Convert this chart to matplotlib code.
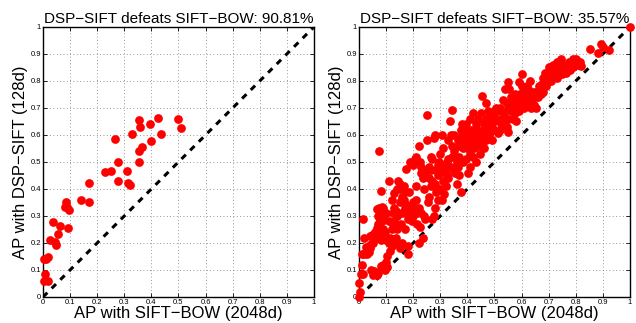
import matplotlib
matplotlib.use("Agg")
import matplotlib.pyplot as plt
import numpy as np

plt.rcParams['font.family'] = ['Liberation Sans', 'DejaVu Sans']

# left panel: SIFT-BOW AP vs DSP-SIFT AP
left_x = [0.354, 0.359, 0.423, 0.396, 0.497, 0.509, 0.434, 0.400, 0.367, 0.354,
          0.354, 0.330, 0.267, 0.277, 0.277, 0.229, 0.250, 0.309, 0.315, 0.322,
          0.171, 0.141, 0.171, 0.085, 0.082, 0.096, 0.090, 0.036, 0.063, 0.093,
          0.057, 0.027, 0.044, 0.049, 0.020, 0.012, 0.004, 0.007, 0.004, 0.020]
left_y = [0.656, 0.631, 0.662, 0.640, 0.658, 0.626, 0.605, 0.577, 0.557, 0.539,
          0.499, 0.603, 0.585, 0.499, 0.429, 0.463, 0.466, 0.466, 0.423, 0.415,
          0.423, 0.360, 0.351, 0.350, 0.334, 0.322, 0.333, 0.278, 0.262, 0.257,
          0.233, 0.210, 0.203, 0.194, 0.148, 0.139, 0.142, 0.087, 0.058, 0.058]

# right panel
right_pts = [
    (1.0, 1.0), (0.853, 0.92), (0.893, 0.937), (0.90, 0.925), (0.883, 0.903), (0.923, 0.915),
    (0.0, 0.0), (0.002, 0.02), (0.0, 0.05), (0.008, 0.085), (0.012, 0.12), (0.015, 0.085),
    (0.016, 0.29), (0.012, 0.16), (0.02, 0.16),
    (0.02, 0.22), (0.025, 0.185), (0.03, 0.17), (0.035, 0.19), (0.04, 0.18), (0.045, 0.195),
    (0.03, 0.16), (0.04, 0.225), (0.05, 0.20), (0.048, 0.23), (0.045, 0.10), (0.05, 0.08),
    (0.055, 0.095), (0.028, 0.175), (0.038, 0.165),
    (0.06, 0.24), (0.065, 0.255), (0.07, 0.27), (0.07, 0.30), (0.075, 0.33), (0.065, 0.325),
    (0.08, 0.31), (0.085, 0.28), (0.09, 0.33), (0.09, 0.30), (0.075, 0.54), (0.082, 0.392),
    (0.06, 0.085), (0.07, 0.09), (0.065, 0.08), (0.08, 0.21), (0.09, 0.25), (0.085, 0.22),
    (0.095, 0.24), (0.08, 0.115), (0.09, 0.12), (0.095, 0.10), (0.055, 0.215), (0.06, 0.22),
    (0.075, 0.26), (0.08, 0.29), (0.07, 0.235), (0.085, 0.335), (0.078, 0.285),
    (0.11, 0.43), (0.12, 0.36), (0.125, 0.31), (0.13, 0.33), (0.13, 0.385), (0.14, 0.40),
    (0.145, 0.43), (0.15, 0.42), (0.10, 0.21), (0.105, 0.15), (0.11, 0.20), (0.115, 0.22),
    (0.12, 0.25), (0.125, 0.215), (0.13, 0.28), (0.11, 0.28), (0.14, 0.30), (0.145, 0.31),
    (0.10, 0.13), (0.105, 0.11), (0.115, 0.17), (0.12, 0.19), (0.135, 0.22), (0.14, 0.20),
    (0.14, 0.25), (0.15, 0.18), (0.15, 0.35), (0.10, 0.31), (0.135, 0.32), (0.125, 0.27),
    (0.15, 0.40), (0.16, 0.37), (0.165, 0.36), (0.17, 0.33), (0.175, 0.31), (0.18, 0.29),
    (0.185, 0.32), (0.19, 0.30), (0.20, 0.33), (0.17, 0.25), (0.18, 0.19), (0.18, 0.16),
    (0.175, 0.475), (0.19, 0.50), (0.20, 0.49), (0.185, 0.39), (0.165, 0.41), (0.155, 0.27),
    (0.16, 0.20), (0.195, 0.28), (0.17, 0.39), (0.16, 0.31), (0.19, 0.33), (0.175, 0.34),
    (0.205, 0.51), (0.21, 0.52), (0.22, 0.56), (0.225, 0.50), (0.23, 0.46), (0.235, 0.44),
    (0.24, 0.47), (0.21, 0.41), (0.22, 0.33), (0.23, 0.31), (0.24, 0.30), (0.245, 0.29),
    (0.20, 0.30), (0.215, 0.27), (0.225, 0.26), (0.235, 0.22), (0.22, 0.20), (0.20, 0.35),
    (0.24, 0.40), (0.245, 0.45), (0.25, 0.58), (0.25, 0.675), (0.21, 0.36), (0.215, 0.31),
    (0.23, 0.48), (0.205, 0.32),
    (0.26, 0.48), (0.265, 0.52), (0.27, 0.51), (0.275, 0.59), (0.28, 0.60), (0.285, 0.47),
    (0.29, 0.45), (0.295, 0.50), (0.30, 0.53), (0.26, 0.44), (0.27, 0.43), (0.28, 0.42),
    (0.26, 0.37), (0.265, 0.41), (0.275, 0.30), (0.27, 0.29), (0.285, 0.39), (0.29, 0.36),
    (0.255, 0.35), (0.30, 0.46), (0.30, 0.40), (0.28, 0.33), (0.265, 0.47), (0.29, 0.49),
    (0.305, 0.60), (0.31, 0.55), (0.315, 0.49), (0.32, 0.47), (0.325, 0.45), (0.33, 0.51),
    (0.335, 0.65), (0.342, 0.693), (0.345, 0.56), (0.35, 0.54), (0.31, 0.43), (0.32, 0.41),
    (0.33, 0.44), (0.34, 0.48), (0.35, 0.47), (0.305, 0.36), (0.33, 0.58), (0.34, 0.60),
    (0.345, 0.52), (0.35, 0.60), (0.315, 0.38), (0.325, 0.50), (0.31, 0.47),
    (0.36, 0.50), (0.365, 0.48), (0.37, 0.52), (0.375, 0.62), (0.38, 0.60), (0.385, 0.55),
    (0.39, 0.60), (0.395, 0.64), (0.40, 0.62), (0.36, 0.42), (0.37, 0.45), (0.375, 0.39),
    (0.385, 0.50), (0.39, 0.57), (0.355, 0.46), (0.40, 0.58), (0.38, 0.64), (0.365, 0.58),
    (0.40, 0.55), (0.395, 0.51), (0.385, 0.58), (0.37, 0.56),
    (0.402, 0.458), (0.41, 0.48), (0.415, 0.57), (0.42, 0.60), (0.425, 0.55), (0.43, 0.57),
    (0.435, 0.60), (0.44, 0.62), (0.445, 0.58), (0.45, 0.56), (0.41, 0.66), (0.42, 0.68),
    (0.43, 0.64), (0.44, 0.66), (0.45, 0.68), (0.41, 0.53), (0.42, 0.52), (0.43, 0.50),
    (0.445, 0.53), (0.435, 0.56), (0.415, 0.62), (0.405, 0.60), (0.42, 0.58), (0.44, 0.59),
    (0.425, 0.61), (0.45, 0.60),
    (0.453, 0.745), (0.46, 0.60), (0.465, 0.62), (0.47, 0.66), (0.475, 0.64), (0.48, 0.68),
    (0.485, 0.61), (0.49, 0.63), (0.495, 0.67), (0.50, 0.69), (0.455, 0.57), (0.46, 0.55),
    (0.47, 0.58), (0.48, 0.60), (0.49, 0.58), (0.50, 0.65), (0.475, 0.69), (0.50, 0.62),
    (0.47, 0.72), (0.485, 0.65), (0.46, 0.64),
    (0.505, 0.70), (0.51, 0.66), (0.514, 0.606), (0.52, 0.62), (0.525, 0.64), (0.53, 0.68),
    (0.535, 0.67), (0.54, 0.65), (0.545, 0.72), (0.55, 0.70), (0.51, 0.69), (0.52, 0.70),
    (0.53, 0.73), (0.54, 0.77), (0.549, 0.795), (0.55, 0.66), (0.545, 0.63), (0.55, 0.61),
    (0.555, 0.77), (0.56, 0.74), (0.565, 0.72), (0.57, 0.70), (0.575, 0.68), (0.58, 0.71),
    (0.585, 0.73), (0.59, 0.796), (0.595, 0.75), (0.60, 0.78), (0.56, 0.69), (0.57, 0.66),
    (0.58, 0.65), (0.59, 0.69), (0.60, 0.72), (0.60, 0.74), (0.575, 0.75),
    (0.601, 0.827), (0.605, 0.76), (0.61, 0.74), (0.615, 0.72), (0.62, 0.75), (0.625, 0.77),
    (0.63, 0.73), (0.635, 0.70), (0.64, 0.76), (0.645, 0.71), (0.65, 0.74), (0.61, 0.70),
    (0.62, 0.78), (0.63, 0.80), (0.64, 0.74), (0.65, 0.76), (0.655, 0.70),
    (0.66, 0.76), (0.665, 0.78), (0.67, 0.77), (0.675, 0.79), (0.68, 0.81), (0.685, 0.83),
    (0.69, 0.82), (0.695, 0.80), (0.70, 0.85), (0.66, 0.74), (0.67, 0.75), (0.69, 0.78),
    (0.70, 0.80), (0.68, 0.76), (0.70, 0.83),
    (0.705, 0.82), (0.71, 0.84), (0.715, 0.86), (0.72, 0.83), (0.725, 0.85), (0.73, 0.87),
    (0.735, 0.84), (0.74, 0.86), (0.745, 0.88), (0.75, 0.826), (0.71, 0.80), (0.72, 0.82),
    (0.73, 0.81), (0.74, 0.83), (0.75, 0.85),
    (0.755, 0.84), (0.76, 0.86), (0.765, 0.83), (0.77, 0.85), (0.775, 0.87), (0.78, 0.84),
    (0.785, 0.86), (0.79, 0.88), (0.795, 0.87), (0.80, 0.86), (0.79, 0.85), (0.80, 0.88),
    (0.805, 0.87), (0.81, 0.86), (0.815, 0.87), (0.82, 0.855),
]
right_x = [p[0] for p in right_pts]
right_y = [p[1] for p in right_pts]

titles = ["DSP\u2212SIFT defeats SIFT\u2212BOW: 90.81%",
          "DSP\u2212SIFT defeats SIFT\u2212BOW: 35.57%"]
xlabel = "AP with SIFT\u2212BOW (2048d)"
ylabel = "AP with DSP\u2212SIFT (128d)"
ticks = np.round(np.arange(0, 1.01, 0.1), 1)
tick_labels = ["0", "0.1", "0.2", "0.3", "0.4", "0.5", "0.6", "0.7", "0.8", "0.9", "1"]

fig = plt.figure(figsize=(6.36, 3.23), dpi=100)
ax1 = fig.add_axes([0.0676, 0.0805, 0.426, 0.836])
ax2 = fig.add_axes([0.5645, 0.0805, 0.426, 0.836])

for ax, xs, ys, title in [(ax1, left_x, left_y, titles[0]), (ax2, right_x, right_y, titles[1])]:
    ax.plot([0, 1], [0, 1], color='black', linestyle=(0, (2, 2)), linewidth=2.2, zorder=2)
    ax.plot(xs, ys, 'o', color='#ff0000', markersize=6.3, markeredgewidth=0, zorder=3, clip_on=False)
    ax.set_xlim(0, 1)
    ax.set_ylim(0, 1)
    ax.set_xticks(ticks)
    ax.set_yticks(ticks)
    ax.set_xticklabels(tick_labels)
    ax.set_yticklabels(tick_labels)
    ax.tick_params(direction='in', labelsize=5.5, length=3, width=0.6, pad=1.5,
                   top=True, right=True)
    ax.grid(True, linestyle=(0, (1, 3)), color='#777777', linewidth=0.6)
    for s in ax.spines.values():
        s.set_linewidth(1.0)
    ax.set_title(title, fontsize=11, pad=3)
    ax.set_xlabel(xlabel, fontsize=12, labelpad=0)
    ax.set_ylabel(ylabel, fontsize=12, labelpad=2)

fig.savefig("out.png", dpi=100)
